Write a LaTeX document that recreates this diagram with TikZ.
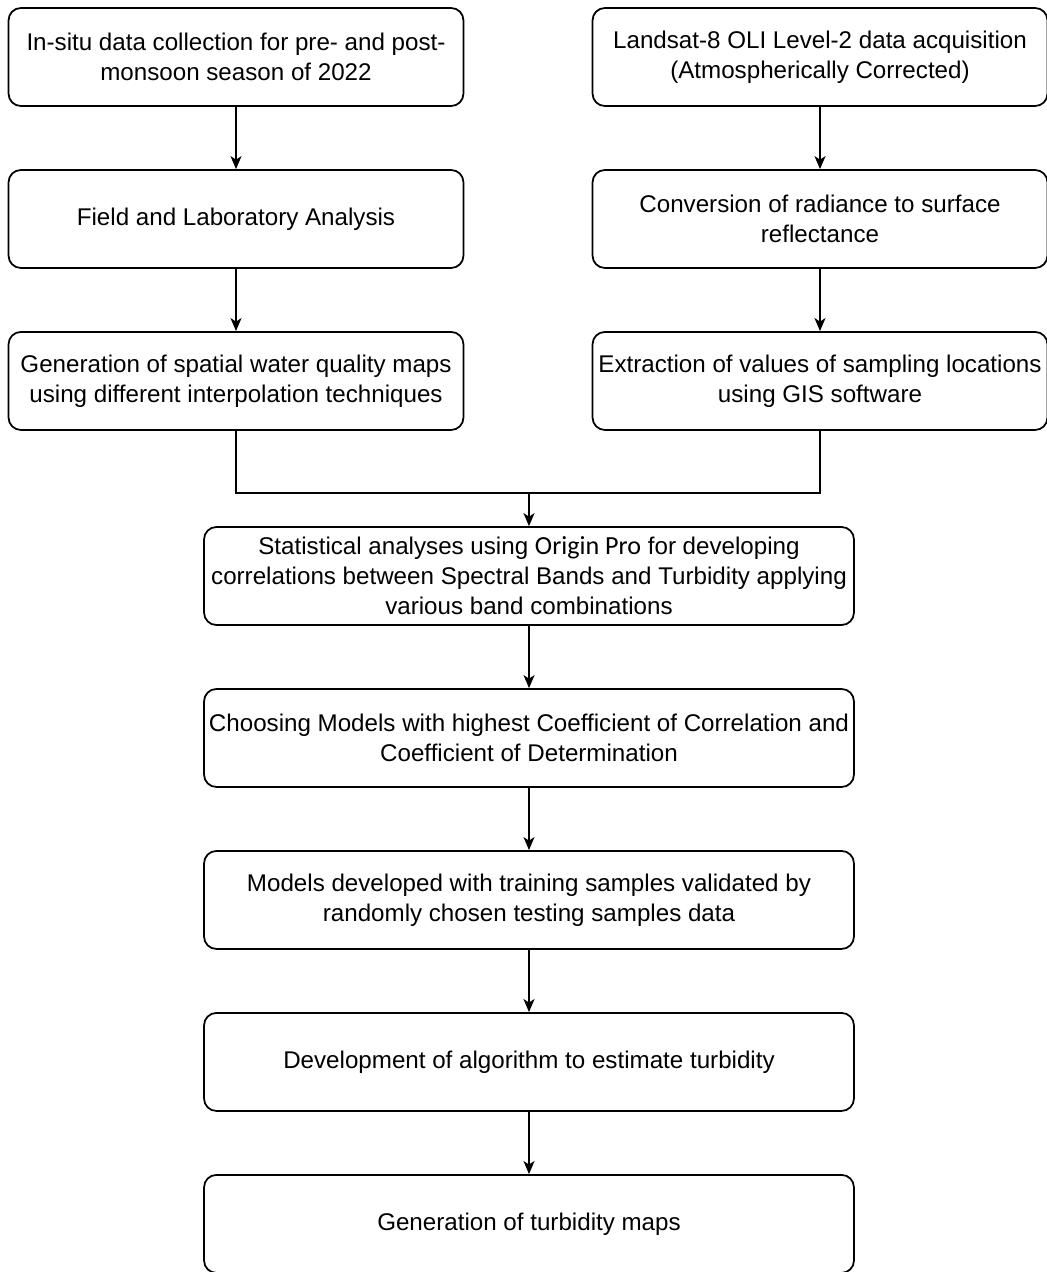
\documentclass[tikz,border=0pt]{standalone}
\usepackage{fontspec}
\setmainfont{Liberation Sans}
\newfontfamily\originfont[Scale=1.08]{Carlito}
\usetikzlibrary{arrows.meta,positioning,calc}
\tikzset{
  flow/box/.style={draw, rounded corners=7pt, line width=1pt, minimum width=9.1cm, minimum height=1.96cm, align=center, inner sep=1pt, font=\fontsize{13.75}{17}\selectfont},
  flow/wide/.style={flow/box, minimum width=13cm},
  flow/line/.style={line width=1pt},
  flow/arr/.style={flow/line, -{Stealth[length=2.6mm,width=2.2mm,inset=0.7mm]}}
}

\begin{document}
\begin{tikzpicture}[x=0.02cm, y=-0.02cm, node distance=1.245cm]
\useasboundingbox (0,0) rectangle (1047,1272);
\node[flow/box] (insitu) at (236,57) {In-situ data collection for pre- and post-\\monsoon season of 2022};
\node[flow/box, below=of insitu] (field) {Field and Laboratory Analysis};
\node[flow/box, below=of field] (wqmaps) {Generation of spatial water quality maps\\using different interpolation techniques};
\node[flow/box] (landsat) at (820,57) {Landsat-8 OLI Level-2 data acquisition\\(Atmospherically Corrected)};
\node[flow/box, below=of landsat] (reflect) {Conversion of radiance to surface\\reflectance};
\node[flow/box, below=of reflect] (extract) {Extraction of values of sampling locations\\using GIS software};
\node[flow/wide] (stats) at (529,576) {Statistical analyses using {\originfont Origin Pro} for developing\\correlations between Spectral Bands and Turbidity applying\\various band combinations};
\node[flow/wide, below=of stats] (choose) {Choosing Models with highest Coefficient of Correlation and\\Coefficient of Determination};
\node[flow/wide, below=of choose] (valid) {Models developed with training samples validated by\\randomly chosen testing samples data};
\node[flow/wide, below=of valid] (algo) {Development of algorithm to estimate turbidity};
\node[flow/wide, below=of algo] (tmaps) {Generation of turbidity maps};
\coordinate[above=6.6mm of stats.north] (join);

\draw[flow/arr] (insitu) -- (field);
\draw[flow/arr] (field) -- (wqmaps);
\draw[flow/arr] (landsat) -- (reflect);
\draw[flow/arr] (reflect) -- (extract);
\draw[flow/line] (wqmaps.south) |- (join);
\draw[flow/line] (extract.south) |- (join);
\draw[flow/arr] (join) -- (stats);
\draw[flow/arr] (stats) -- (choose);
\draw[flow/arr] (choose) -- (valid);
\draw[flow/arr] (valid) -- (algo);
\draw[flow/arr] (algo) -- (tmaps);
\end{tikzpicture}
\end{document}
